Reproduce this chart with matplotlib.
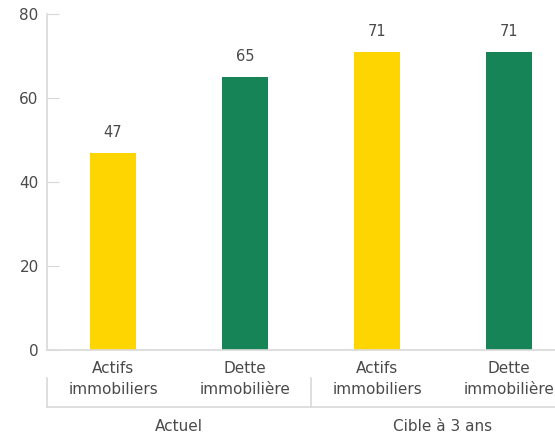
import matplotlib.pyplot as plt
from matplotlib.transforms import blended_transform_factory

# categories and values
labels = ["Actifs\nimmobiliers", "Dette\nimmobilière", "Actifs\nimmobiliers", "Dette\nimmobilière"]
values = [47, 65, 71, 71]
colors = ["#FFD500", "#168457", "#FFD500", "#168457"]
groups = ["Actuel", "Cible à 3 ans"]

txt = "#4a4a4a"
grid = "#d9d9d9"
plt.rcParams['font.family'] = ['DejaVu Sans']

fig = plt.figure(figsize=(5.55, 4.36), dpi=100)
# axes runs past the right edge of the figure on purpose
ax = fig.add_axes([47/555, 86/436, 528/555, 336/436])

x = list(range(len(values)))
ax.bar(x, values, width=0.356, color=colors)
for xi, v in zip(x, values):
    ax.annotate(str(v), (xi, v), xytext=(0, 9), textcoords="offset points",
                ha="center", va="bottom", fontsize=10.5, color=txt)

ax.set_xlim(-0.5, 3.5)
ax.set_ylim(0, 80)
ax.set_yticks([0, 20, 40, 60, 80])
ax.set_xticks(x)
ax.set_xticklabels(labels, fontsize=11, color=txt, linespacing=1.45)
ax.tick_params(axis="x", length=0, pad=8)
ax.tick_params(axis="y", direction="in", length=8.6, color=grid, labelsize=11,
               labelcolor=txt, pad=6)

for s in ["top", "right"]:
    ax.spines[s].set_visible(False)
ax.spines["left"].set_color(grid)
ax.spines["bottom"].set_color(grid)
ax.spines["left"].set_linewidth(1.2)
ax.spines["bottom"].set_linewidth(1.2)

# group brackets under the category labels
tr = blended_transform_factory(ax.transData, ax.transAxes)
ax.plot([-0.5, 3.5], [-0.170, -0.170], transform=tr, color=grid, lw=1.2, clip_on=False)
for sx in [-0.5, 1.5, 3.5]:
    ax.plot([sx, sx], [-0.083, -0.170], transform=tr, color=grid, lw=1.2, clip_on=False)
for gx, g in zip([0.5, 2.5], groups):
    ax.text(gx, -0.229, g, transform=tr, ha="center", va="center", fontsize=11, color=txt)

fig.savefig("out.png", dpi=100)
